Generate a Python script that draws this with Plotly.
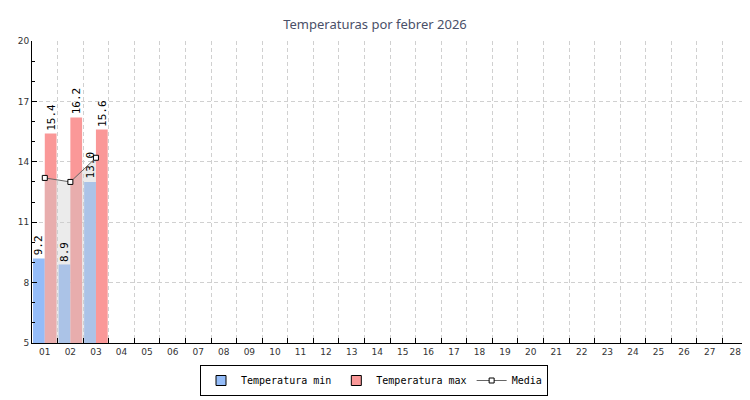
import plotly.graph_objects as go

days = [f"{d:02d}" for d in range(1, 29)]
obs_days = ["01", "02", "03"]
temp_min = [9.2, 8.9, 13.0]
temp_max = [15.4, 16.2, 15.6]
media = [13.2, 13.0, 14.2]
y_ticks = [5, 8, 11, 14, 17, 20]

mono = "DejaVu Sans Mono"
BARGAP = 0.08
BLUE = "rgb(148,188,248)"
RED = "rgb(250,152,152)"
GRID = "#d0d0d0"
# page body has an 8px margin; size the figure to fill the 750x400 window
W, H = 742, 392

fig = go.Figure()
fig.add_trace(go.Bar(
    x=obs_days, y=temp_min, name="Temperatura min", showlegend=False,
    marker=dict(color=BLUE, line=dict(width=0)),
))
fig.add_trace(go.Bar(
    x=obs_days, y=temp_max, name="Temperatura max", showlegend=False,
    marker=dict(color=RED, line=dict(width=0)),
))
fig.add_trace(go.Scatter(
    x=obs_days, y=media, mode="none", fill="tozeroy",
    fillcolor="rgba(205,205,205,0.4)", showlegend=False, hoverinfo="skip",
))
# legend entries (boxed squares like the original)
for nm, col in (("Temperatura min", BLUE), ("Temperatura max", RED)):
    fig.add_trace(go.Scatter(
        x=[None], y=[None], mode="markers", name=nm,
        marker=dict(symbol="square", size=10, color=col,
                    line=dict(color="black", width=1)),
    ))
fig.add_trace(go.Scatter(
    x=obs_days, y=media, name="Media", mode="lines+markers",
    line=dict(color="#666666", width=1),
    marker=dict(symbol="square", size=5, color="white",
                line=dict(color="black", width=1)),
))

half = (1 - BARGAP) / 4
for series, off in ((temp_min, -half), (temp_max, half)):
    for day, v in zip(obs_days, series):
        fig.add_annotation(
            x=days.index(day) + off, y=v, text=f"{v:.1f}", textangle=-90,
            showarrow=False, yanchor="bottom", xanchor="center", yshift=1,
            font=dict(family=mono, size=11, color="black"),
        )

fig.update_layout(
    width=W, height=H,
    margin=dict(l=24, r=2, t=33, b=57, autoexpand=False),
    paper_bgcolor="white", plot_bgcolor="white",
    barmode="group", bargap=BARGAP, bargroupgap=0,
    title=dict(text="Temperaturas por febrer 2026", x=367 / W, xref="container",
               xanchor="center", y=1 - 16 / H, yref="container",
               yanchor="middle",
               font=dict(family="Noto Sans", size=13, color="#4a5068")),
    legend=dict(orientation="h", xref="container", yref="container",
                x=366 / W, xanchor="center", y=4 / H, yanchor="bottom",
                bordercolor="black", borderwidth=1, bgcolor="white",
                font=dict(family=mono, size=10, color="black"),
                itemwidth=30, tracegroupgap=0),
    showlegend=True,
)
fig.update_xaxes(
    type="category", categoryorder="array", categoryarray=days,
    range=[-0.5, 27.5], tickson="boundaries", ticks="inside", ticklen=5,
    tickcolor="black", showline=True, linecolor="black", linewidth=1,
    showgrid=True, gridcolor=GRID, griddash="4px,3px", gridwidth=1,
    tickfont=dict(family="DejaVu Sans", size=9, color="#333333"),
    fixedrange=True, automargin=False,
)
fig.update_yaxes(
    range=[5, 20], tickvals=y_ticks, ticks="inside", ticklen=5,
    tickcolor="black", showline=True, linecolor="black", linewidth=1,
    showgrid=True, gridcolor=GRID, griddash="4px,3px", gridwidth=1,
    minor=dict(dtick=1, ticks="inside", ticklen=3, tickcolor="black", showgrid=False),
    tickfont=dict(family="DejaVu Sans", size=9, color="#333333"),
    zeroline=False, fixedrange=True, automargin=False,
)

fig.write_html("out.html")
